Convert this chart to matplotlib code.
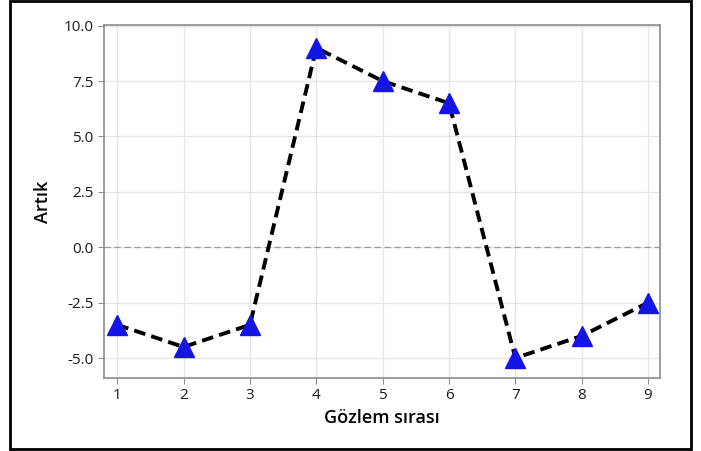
import matplotlib.pyplot as plt
from matplotlib.patches import Rectangle

# data
order = [1, 2, 3, 4, 5, 6, 7, 8, 9]
residuals = [-3.5, -4.5, -3.5, 9.0, 7.5, 6.5, -5.0, -4.0, -2.5]
yticks = [-5.0, -2.5, 0.0, 2.5, 5.0, 7.5, 10.0]

plt.rcParams['font.family'] = ['Open Sans', 'DejaVu Sans']

fig = plt.figure(figsize=(7.01, 4.51), dpi=100)
ax = fig.add_axes([104 / 701, 1 - 378 / 451, 556 / 701, 353 / 451])

# frame around the whole figure
fig.patches.append(Rectangle((10 / 701, 2 / 451), 681 / 701, 448 / 451,
                             transform=fig.transFigure, fill=False,
                             edgecolor='black', linewidth=2))

ax.grid(True, color='#e6e6e6', linewidth=1)
ax.set_axisbelow(True)
ax.axhline(0, color='#999999', linestyle=(0, (5, 3)), linewidth=0.9)

ax.plot(order, residuals, color='black', linestyle=(0, (3, 1.6)), linewidth=2.8,
        marker='^', markersize=15, markerfacecolor='#1414e6',
        markeredgecolor='#1414e6', zorder=3)

ax.set_xlim(0.8, 9.18)
ax.set_ylim(-5.9, 10.03)
ax.set_xticks(order)
ax.set_yticks(yticks)
ax.set_yticklabels([f'{v:.1f}' for v in yticks])

for s in ax.spines.values():
    s.set_color('#8c8c8c')
    s.set_linewidth(1.2)
ax.tick_params(colors='#8c8c8c', labelcolor='#1a1a1a', labelsize=11, length=4)

ax.set_xlabel('Gözlem sırası', fontsize=13, fontweight='semibold', labelpad=4)
ax.set_ylabel('Artık', fontsize=13, fontweight='semibold', labelpad=8)

fig.savefig('out.png', dpi=100)
